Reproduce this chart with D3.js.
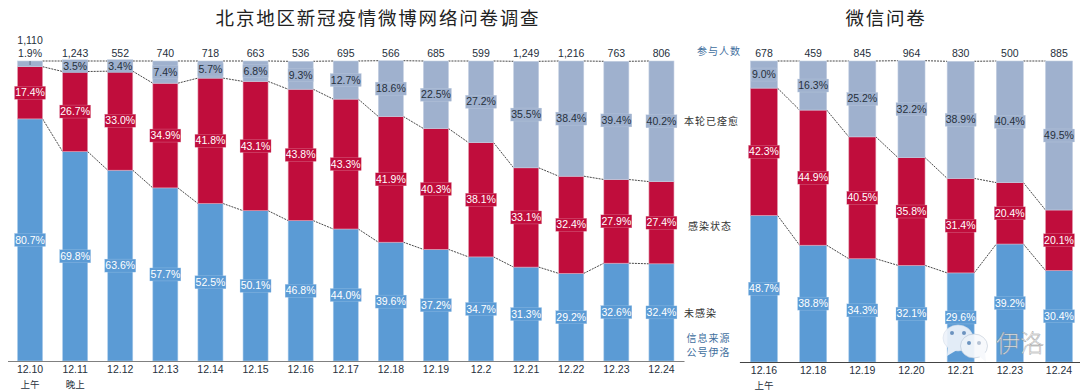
<!DOCTYPE html>
<html>
<head>
<meta charset="utf-8">
<script src="https://cdn.jsdelivr.net/npm/d3@7"></script>
<style>
  body { margin: 0; background: #fff; }
  text { font-family: "Liberation Sans", sans-serif; }
  .cn { font-family: "Noto Sans CJK SC", sans-serif; }
</style>
</head>
<body>
<div id="chart"></div>
<script>
const weiboDates = ['12.10', '12.11', '12.12', '12.13', '12.14', '12.15', '12.16', '12.17', '12.18', '12.19', '12.2', '12.21', '12.22', '12.23', '12.24']
const weiboTotals = ['1,110', '1,243', '552', '740', '718', '663', '536', '695', '566', '685', '599', '1,249', '1,216', '763', '806']
const weiboNone = [80.7, 69.8, 63.6, 57.7, 52.5, 50.1, 46.8, 44.0, 39.6, 37.2, 34.7, 31.3, 29.2, 32.6, 32.4]
const weiboInfected = [17.4, 26.7, 33.0, 34.9, 41.8, 43.1, 43.8, 43.3, 41.9, 40.3, 38.1, 33.1, 32.4, 27.9, 27.4]
const weiboRecovered = [1.9, 3.5, 3.4, 7.4, 5.7, 6.8, 9.3, 12.7, 18.6, 22.5, 27.2, 35.5, 38.4, 39.4, 40.2]

const wechatDates = ['12.16', '12.18', '12.19', '12.20', '12.21', '12.23', '12.24']
const wechatTotals = ['678', '459', '845', '964', '830', '500', '885']
const wechatNone = [48.7, 38.8, 34.3, 32.1, 29.6, 39.2, 30.4]
const wechatInfected = [42.3, 44.9, 40.5, 35.8, 31.4, 20.4, 20.1]
const wechatRecovered = [9.0, 16.3, 25.2, 32.2, 38.9, 40.4, 49.5]

const keys = ['none', 'infected', 'recovered']
const colors = {none: '#5b9bd5', infected: '#c00d3c', recovered: '#9fb1ce'}
const edgeColors = {none: '#a9cbea', infected: '#e3a0b3', recovered: '#c3cfe2'}
const labelColor = {none: '#fff', infected: '#fff', recovered: '#26303c'}
const textDark = '#26303c'
const numStyle = {size: '10.5px', spacing: '0px'}

const svg = d3.select('#chart').append('svg')
  .attr('width', 1080)
  .attr('height', 391)

function numText(sel) {
  sel.style('font-size', numStyle.size)
    .style('letter-spacing', numStyle.spacing)
}

function drawPanel(cfg) {
  const rows = cfg.dates.map((d, i) => ({
    date: d,
    total: cfg.totals[i],
    none: cfg.none[i],
    infected: cfg.infected[i],
    recovered: cfg.recovered[i]
  }))
  const xScale = d3.scaleBand()
    .domain(cfg.dates)
    .range(cfg.xRange)
    .paddingInner(cfg.padding)
    .paddingOuter(cfg.padding / 2)
  const yScale = d3.scaleLinear()
    .domain([0, 100])
    .range([cfg.bottom, 61])
  const stacked = d3.stack().keys(keys)(rows)
  const g = svg.append('g')

  // dashed connectors between neighbouring bars
  stacked.forEach(layer => {
    layer.slice(0, -1).forEach((d, i) => {
      const next = layer[i + 1]
      g.append('line')
        .attr('x1', xScale(d.data.date) + xScale.bandwidth())
        .attr('x2', xScale(next.data.date))
        .attr('y1', yScale(d[1]))
        .attr('y2', yScale(next[1]))
        .attr('stroke', '#333')
        .attr('stroke-width', 0.9)
        .attr('stroke-dasharray', '2,1')
    })
  })

  stacked.forEach(layer => {
    g.selectAll('.bar-' + layer.key).data(layer)
      .enter().append('rect')
      .attr('x', d => xScale(d.data.date))
      .attr('y', d => yScale(d[1]))
      .attr('width', xScale.bandwidth())
      .attr('height', d => yScale(d[0]) - yScale(d[1]))
      .style('fill', colors[layer.key])
      .style('stroke', edgeColors[layer.key])
      .style('stroke-width', 0.6)
  })

  // segment labels, each sits on a box of the series colour
  stacked.forEach(layer => {
    layer.forEach(d => {
      const value = d.data[layer.key]
      const cx = xScale(d.data.date) + xScale.bandwidth() / 2
      let cy = yScale((d[0] + d[1]) / 2)
      const outside = value < 2
      if (outside) {
        cy = 53
        g.append('line')
          .attr('x1', cx).attr('x2', cx)
          .attr('y1', 61).attr('y2', 65)
          .attr('stroke', '#4a5a70')
          .attr('stroke-width', 0.8)
      }
      const str = value.toFixed(1) + '%'
      const w = str.length * 5.7 + 2.5
      if (!outside) {
        g.append('rect')
          .attr('x', cx - w / 2)
          .attr('y', cy - 6.5)
          .attr('width', w)
          .attr('height', 13)
          .style('fill', colors[layer.key])
          .style('stroke', edgeColors[layer.key])
          .style('stroke-width', 0.3)
      }
      g.append('text')
        .text(str)
        .attr('x', cx)
        .attr('y', cy)
        .attr('dy', '0.34em')
        .style('text-anchor', 'middle')
        .call(numText)
        .style('fill', outside ? textDark : labelColor[layer.key])
    })
  })

  // respondents above each bar
  g.selectAll('.total').data(rows)
    .enter().append('text')
    .text(d => d.total)
    .attr('x', d => xScale(d.date) + xScale.bandwidth() / 2)
    .attr('y', d => yScale(100) - (d.recovered < 2 ? 21 : 8))
    .attr('dy', '0.34em')
    .style('text-anchor', 'middle')
    .call(numText)
    .style('fill', textDark)

  const xAxis = d3.axisBottom(xScale).tickSize(0).tickPadding(5)
  const axisG = g.append('g')
    .attr('transform', `translate(0, ${cfg.bottom})`)
    .call(xAxis)
  axisG.select('.domain')
    .attr('stroke', cfg.axisColor)
    .attr('stroke-width', 1.2)
  axisG.selectAll('text')
    .call(numText)
    .style('font-family', '"Liberation Sans", sans-serif')
    .style('fill', textDark)

  // small second line under some dates
  Object.keys(cfg.notes).forEach(date => {
    g.append('text')
      .attr('class', 'cn')
      .text(cfg.notes[date])
      .attr('x', xScale(date) + xScale.bandwidth() / 2)
      .attr('y', cfg.bottom + 23.5)
      .attr('dy', '0.36em')
      .style('text-anchor', 'middle')
      .style('font-size', '9.5px')
      .style('fill', textDark)
  })

  svg.append('text')
    .attr('class', 'cn')
    .text(cfg.title)
    .attr('x', cfg.titleX)
    .attr('y', 18)
    .attr('dy', '0.36em')
    .style('text-anchor', 'middle')
    .style('font-size', '18.5px')
    .style('letter-spacing', '1.8px')
    .style('fill', '#222')
}

drawPanel({
  dates: weiboDates, totals: weiboTotals, none: weiboNone, infected: weiboInfected, recovered: weiboRecovered,
  xRange: [7.5, 684], padding: 0.445, bottom: 361, axisColor: '#808080',
  notes: {'12.10': '上午', '12.11': '晚上'},
  title: '北京地区新冠疫情微博网络问卷调查', titleX: 378
})
drawPanel({
  dates: wechatDates, totals: wechatTotals, none: wechatNone, infected: wechatInfected, recovered: wechatRecovered,
  xRange: [739.4, 1083.6], padding: 0.45, bottom: 362, axisColor: '#444',
  notes: {'12.16': '上午'},
  title: '微信问卷', titleX: 886
})

// row captions between the two panels
const captions = ['参与人数', '本轮已痊愈', '感染状态', '未感染', '信息来源', '公号伊洛']
const captionBlue = '#3f6f9e'
const captionDark = '#333'
const captionLayout = [
  [719, 51, captionBlue], [711.5, 121, captionDark], [710, 226, captionDark],
  [700.5, 313, captionDark], [708.5, 338, captionBlue], [708.5, 352, captionBlue]
]
svg.selectAll('.caption').data(captions)
  .enter().append('text')
  .attr('class', 'cn')
  .text(d => d)
  .attr('x', (d, i) => captionLayout[i][0])
  .attr('y', (d, i) => captionLayout[i][1])
  .attr('dy', '0.36em')
  .style('text-anchor', 'middle')
  .style('font-size', '10px')
  .style('letter-spacing', '1px')
  .style('fill', (d, i) => captionLayout[i][2])

// watermark
const mark = svg.append('g').attr('opacity', 0.92)
mark.append('ellipse').attr('cx', 958).attr('cy', 338).attr('rx', 15).attr('ry', 13).style('fill', '#eef3fa').style('stroke', '#d5deea').style('stroke-width', 0.6)
mark.append('path').attr('d', 'M948 347 L947 356 L957 350 Z').style('fill', '#eef3fa')
mark.append('ellipse').attr('cx', 974).attr('cy', 346).attr('rx', 13.5).attr('ry', 12).style('fill', '#f7f9fc').style('stroke', '#b9c4d4').style('stroke-width', 0.6)
mark.append('path').attr('d', 'M979 356 L986 362 L985 352 Z').style('fill', '#f7f9fc')
const dots = [[952, 333, '#6d93bd'], [964, 333, '#6d93bd'], [969, 343, '#6d93bd'], [979, 343, '#b0bfd2']]
dots.forEach(d => {
  mark.append('circle').attr('cx', d[0]).attr('cy', d[1]).attr('r', 2).style('fill', d[2])
})
mark.append('text')
  .attr('class', 'cn')
  .text('伊洛')
  .attr('x', 996)
  .attr('y', 343)
  .attr('dy', '0.36em')
  .style('font-size', '24px')
  .style('font-weight', 300)
  .style('fill', '#ededed')
  .style('stroke', '#8a8a8a')
  .style('stroke-width', 0.35)
</script>
</body>
</html>
